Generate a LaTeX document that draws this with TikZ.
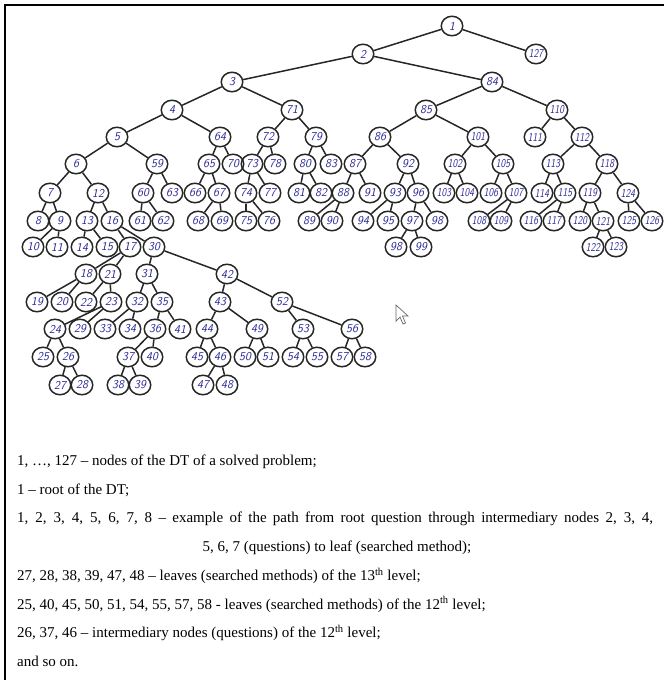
\documentclass[tikz,border=0pt]{standalone}
\usepackage{fontspec}
\setmainfont{Liberation Serif}
\usetikzlibrary{shapes.geometric}

\definecolor{ink}{RGB}{40,40,150}

\begin{document}
\begin{tikzpicture}[x=1pt,y=-1pt,
  dt/.style={ellipse,draw=black!85,line width=1.5pt,minimum width=21.5pt,minimum height=19.5pt,inner sep=0pt,
    font=\sffamily\itshape\fontsize{12}{12}\selectfont,text=ink},
  br/.style={line width=1.5pt,black!85},
  txt/.style={inner sep=0pt,font=\fontsize{15}{15}\selectfont}]
\useasboundingbox (0,0) rectangle (664,680);
\draw[line width=2pt] (5,680) -- (5,5) -- (664,5);
\foreach \n/\x/\y in {1/452/26,2/363/54,127/536/54,3/232/82,84/492/82,
  4/172/110,71/292/110,85/426/110,110/557/110,
  5/117/137,64/220/137,72/268/137,79/316/137,86/380/137,101/478/137,111/535/137,112/582/137,
  6/76/164,59/157/164,65/209/164,70/233/164,73/252/164,78/275/164,80/305/164,83/331/164,
  87/355/164,92/408/164,102/455/164,105/503/164,113/553/164,118/607/164,
  7/50/193,12/98/193,60/143/193,63/172/193,66/195/193,67/219/193,74/246/193,77/270/193,
  81/299/193,82/321/193,88/343/193,91/370/193,93/395/193,96/418/193,103/444/193,104/467/193,
  106/491/193,107/516/193,114/542/193,115/565/193,119/590/193,124/628/193,
  8/38/221,9/60/221,13/87/221,16/112/221,61/140/221,62/163/221,68/198/221,69/222/221,
  75/246/221,76/269/221,89/309/221,90/332/221,94/363/221,95/388/221,97/412/221,
  108/479/221,109/501/221,116/531/221,117/554/221,120/580/221,121/603/221,125/629/221,126/652/221,
  10/33/247,11/57/247,14/82/247,15/107/247,17/130/247,30/154/247,98/396/247,99/421/247,
  122/593/247,123/616/247,
  18/86/274,21/110/274,31/147/274,42/227/274,
  19/37/302,20/62/302,22/86/302,23/111/302,32/137/302,35/162/302,43/220/302,52/282/302,
  24/55/329,29/80/329,33/105/329,34/130/329,36/155/329,41/180/329,44/207/329,49/257/329,
  53/303/329,56/352/329,
  25/43/357,26/68/357,37/128/357,40/152/357,45/197/357,46/220/357,50/245/357,51/268/357,
  54/293/357,55/317/357,57/342/357,58/365/357,
  27/60/385,28/82/385,38/118/385,39/140/385,47/203/385,48/227/385}
  \node[dt] (n\n) at (\x,\y) {\ifnum\n>99 \scalebox{0.8}[1]{\n}\else\n\fi};
\node[dt] (n100) at (437,221) {98};
\foreach \a/\b in {1/2,1/127,2/3,2/84,3/4,3/71,4/5,4/64,5/6,5/59,6/7,6/12,7/8,7/9,9/10,9/11,
  12/13,12/16,13/14,13/15,16/17,16/30,17/18,17/21,18/19,18/20,21/22,21/23,23/24,23/29,
  24/25,24/26,26/27,26/28,30/31,30/42,31/32,31/35,32/33,32/34,35/36,35/41,36/37,36/40,
  37/38,37/39,42/43,42/52,43/44,43/49,44/45,44/46,46/47,46/48,49/50,49/51,52/53,52/56,
  53/54,53/55,56/57,56/58,59/60,59/63,60/61,60/62,64/65,64/70,65/66,65/67,67/68,67/69,
  71/72,71/79,72/73,72/78,73/74,73/77,74/75,74/76,79/80,79/83,80/81,80/82,84/85,84/110,
  85/86,85/101,86/87,86/92,87/88,87/91,88/89,88/90,92/93,92/96,93/94,93/95,96/97,96/100,
  97/98,97/99,101/102,101/105,102/103,102/104,105/106,105/107,107/108,107/109,110/111,
  110/112,112/113,112/118,113/114,113/115,115/116,115/117,118/119,118/124,119/120,
  119/121,121/122,121/123,124/125,124/126}
  \draw[br] (n\a) -- (n\b);
\draw[black!60,line width=0.7pt,fill=white] (396,305) -- (396,321) -- (400,317) -- (403,324)
  -- (405.5,323) -- (402.5,316) -- (408,316) -- cycle;
\node[txt,anchor=west] (l1) at (17,462) {1, …, 127 -- nodes of the DT of a solved problem;};
\node[txt,anchor=west] (l2) at (17,490.5) {1 -- root of the DT;};
\node[txt,anchor=west] (l3) at (17,519) {\makebox[636pt][s]{1, 2, 3, 4, 5, 6, 7, 8 -- example of the path from root question through intermediary nodes 2, 3, 4,}};
\node[txt] (l4) at (337,547.5) {5, 6, 7 (questions) to leaf (searched method);};
\node[txt,anchor=west] (l5) at (17,576) {27, 28, 38, 39, 47, 48 -- leaves (searched methods) of the 13\textsuperscript{th} level;};
\node[txt,anchor=west] (l6) at (17,604.5) {25, 40, 45, 50, 51, 54, 55, 57, 58 - leaves (searched methods) of the 12\textsuperscript{th} level;};
\node[txt,anchor=west] (l7) at (17,633) {26, 37, 46 -- intermediary nodes (questions) of the 12\textsuperscript{th} level;};
\node[txt,anchor=west] (l8) at (17,661.5) {and so on.};
\end{tikzpicture}
\end{document}
